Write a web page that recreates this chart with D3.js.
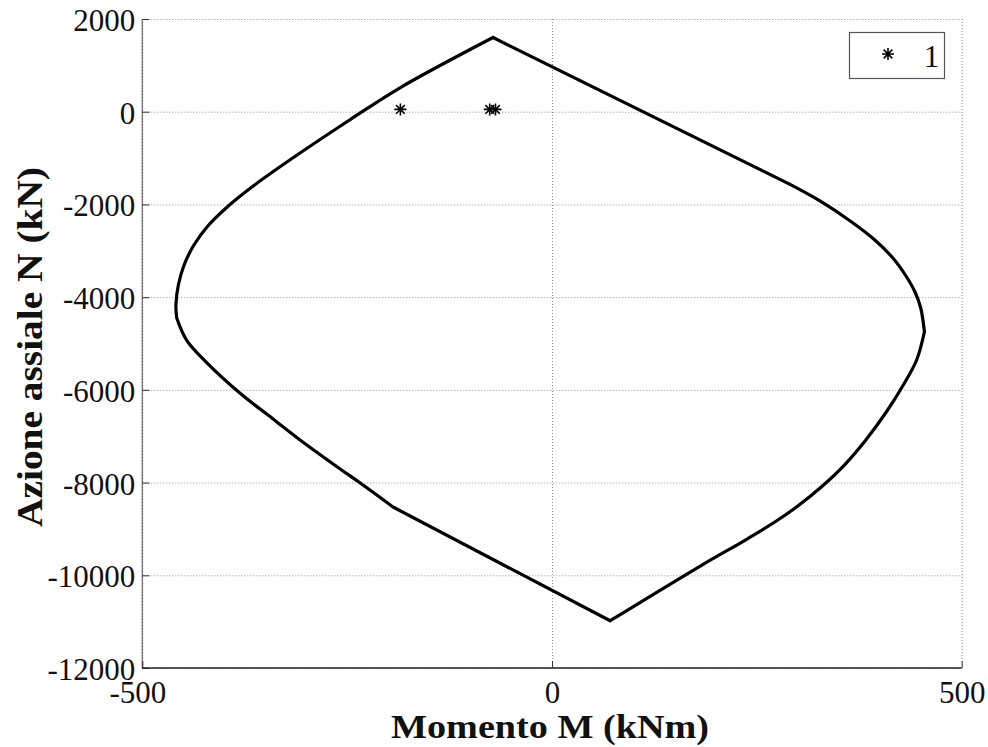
<!DOCTYPE html>
<html>
<head>
<meta charset="utf-8">
<script src="https://cdn.jsdelivr.net/npm/d3@7"></script>
<style>
  html, body { margin: 0; padding: 0; background: #fff; }
  svg { display: block; }
  text { font-family: "Liberation Serif", "DejaVu Serif", serif; fill: #111; }
</style>
</head>
<body>
<svg id="chart" width="988" height="747"></svg>
<script>
// Interaction domain boundary (M in kNm, N in kN), clockwise from the top vertex
const domainM = [-72, 290.5, 327, 364, 394, 416, 432, 443, 450, 454.5, 445, 428, 408, 383, 358, 330, 300, 272, 236, 181, 71,
                 -47, -194, -234, -259, -307.5, -340.5, -381, -422, -446, -458, -459, -456, -449, -437, -420, -395, -363, -320, -247, -186, -72];
const domainN = [1600, -1568, -1924, -2358, -2768, -3156, -3544, -3889, -4234, -4746, -5356, -5917, -6478, -7082, -7600, -8074, -8506, -8851, -9239, -9800, -10980,
                 -9890, -8527, -8010, -7701, -7082, -6627, -6068, -5401, -4925, -4451, -4170, -3739, -3307, -2876, -2466, -2034, -1581, -1042, -179, 511, 1600];

// Stretches of the boundary: straight pieces and smoothly curved pieces (index ranges)
const pieces = [
  { from: 0,  to: 1,  smooth: false },
  { from: 1,  to: 9,  smooth: true },
  { from: 9,  to: 20, smooth: true },
  { from: 20, to: 22, smooth: false },
  { from: 22, to: 30, smooth: true },
  { from: 30, to: 41, smooth: true }
];

// Load combinations (series "1")
const loadM = [-185, -76, -69];
const loadN = [50, 50, 50];

const xTicks = [-500, 0, 500];
const yTicks = [2000, 0, -2000, -4000, -6000, -8000, -10000, -12000];
const legendLabels = ["1"];

const svg = d3.select("#chart");
const x = d3.scaleLinear().domain([-500, 500]).range([142.3, 961.7]);
const y = d3.scaleLinear().domain([-12000, 2000]).range([668, 19]);
const fmt = v => String(v); // plain hyphen-minus labels

// Grid (dotted)
const grid = svg.append("g").attr("stroke", "#909090").attr("stroke-width", 1)
  .attr("stroke-dasharray", "1,2");
grid.selectAll("line.gx").data(xTicks).join("line")
  .attr("x1", d => x(d) + 0.5).attr("x2", d => x(d) + 0.5)
  .attr("y1", y(2000)).attr("y2", y(-12000));
grid.selectAll("line.gy").data(yTicks).join("line")
  .attr("y1", d => y(d) + 0.5).attr("y2", d => y(d) + 0.5)
  .attr("x1", x(-500)).attr("x2", x(500));

// Axes with inward ticks
const yAxis = d3.axisLeft(y).tickValues(yTicks).tickSize(-7).tickPadding(7).tickFormat(fmt);
const xAxis = d3.axisBottom(x).tickValues(xTicks).tickSize(-7).tickPadding(13).tickFormat(fmt);

const gy = svg.append("g").attr("transform", `translate(${x(-500)},0)`).call(yAxis);
gy.select(".domain").attr("stroke", "#707070").attr("stroke-width", 1.3).attr("d", `M0,${y(2000)}V${y(-12000)}`);
gy.selectAll(".tick line").attr("stroke", "#333");
gy.selectAll(".tick text").attr("font-size", 31).attr("font-family", "Liberation Serif").attr("fill", "#111")
  .attr("dy", "0.37em");

const gx = svg.append("g").attr("transform", `translate(0,${y(-12000)})`).call(xAxis);
gx.select(".domain").attr("stroke", "#222").attr("stroke-width", 1.3).attr("d", `M${x(-500)},0H${x(500)}`);
gx.selectAll(".tick line").attr("stroke", "#333");
gx.selectAll(".tick text").attr("font-size", 31).attr("font-family", "Liberation Serif").attr("fill", "#111")
  .attr("dx", d => d < 0 ? -5 : 0);

// Boundary curve, assembled from its pieces
const pts = domainM.map((m, i) => [x(m), y(domainN[i])]);
const straight = d3.line();
const smooth = d3.line().curve(d3.curveCatmullRom.alpha(0.5));
const d = pieces.map(p => (p.smooth ? smooth : straight)(pts.slice(p.from, p.to + 1))).join("");
svg.append("path")
  .attr("d", d)
  .attr("fill", "none").attr("stroke", "#000").attr("stroke-width", 3.2)
  .attr("stroke-linejoin", "round").attr("stroke-linecap", "round");

// Asterisk marker (plus + cross)
function asterisk(r) {
  const a = r * 0.72;
  return `M0,${-r}V${r}M${-r},0H${r}M${-a},${-a}L${a},${a}M${-a},${a}L${a},${-a}`;
}
svg.append("g").selectAll("path").data(loadM.map((m, i) => [m, loadN[i]])).join("path")
  .attr("transform", p => `translate(${x(p[0])},${y(p[1])})`)
  .attr("d", asterisk(6)).attr("stroke", "#000").attr("stroke-width", 1.6).attr("fill", "none");

// Legend
const lg = svg.append("g");
lg.append("rect").attr("x", 849.5).attr("y", 32.5).attr("width", 95).attr("height", 46)
  .attr("fill", "#fff").attr("stroke", "#555").attr("stroke-width", 1.2);
lg.append("path").attr("transform", "translate(888,54)").attr("d", asterisk(6))
  .attr("stroke", "#000").attr("stroke-width", 1.6).attr("fill", "none");
lg.append("text").attr("x", 931.5).attr("y", 66.5).attr("text-anchor", "middle")
  .attr("font-size", 31).text(legendLabels[0]);

// Axis titles
svg.append("text").attr("x", 550).attr("y", 738).attr("text-anchor", "middle")
  .attr("font-size", 34).attr("font-weight", "bold")
  .attr("textLength", 318).attr("lengthAdjust", "spacingAndGlyphs")
  .text("Momento M (kNm)");
svg.append("text").attr("transform", "translate(42,347) rotate(-90)").attr("text-anchor", "middle")
  .attr("font-size", 35).attr("font-weight", "bold")
  .attr("textLength", 360).attr("lengthAdjust", "spacingAndGlyphs")
  .text("Azione assiale N (kN)");
</script>
</body>
</html>
